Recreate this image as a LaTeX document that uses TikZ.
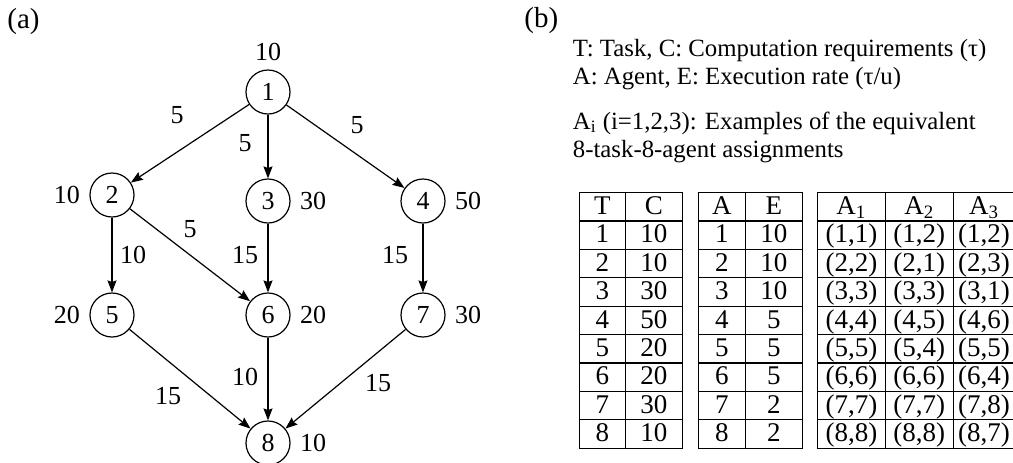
\documentclass[tikz,border=0pt]{standalone}
\usepackage{fontspec}
\setmainfont{Liberation Serif}
\usepackage{tikz}
\usetikzlibrary{arrows.meta, positioning, matrix}
\tikzstyle{task} = [circle, 
draw=black, 
line width=0.6pt, 
minimum size=22pt, 
inner sep=0pt, 
font=\fontsize{13}{15}\selectfont]
\tikzstyle{cost} = [inner sep=0pt, font=\fontsize{13}{15}\selectfont]
\tikzstyle{weight} = [inner sep=0pt, font=\fontsize{13}{15}\selectfont]
\tikzstyle{caption} = [anchor=base west, inner sep=0pt, font=\fontsize{14.5}{16}\selectfont]
\tikzstyle{descr} = [anchor=base west, inner sep=0pt, font=\fontsize{12.4}{14.5}\selectfont]
\tikzstyle{tab} = [matrix of nodes, 
anchor=north west, 
inner sep=0pt, 
outer sep=0pt, 
row sep=-0.6pt, 
column sep=-0.6pt, 
nodes={draw=black, 
line width=0.6pt, 
minimum height=14.2pt, 
inner sep=0pt, 
text height=10.4pt, 
text depth=2.8pt, 
font=\fontsize{13.5}{15}\selectfont}]
\tikzstyle{arrow} = [line width=0.6pt,->,>={Stealth[length=6pt,width=4.5pt,inset=0.8pt]}]

\begin{document}
\begin{tikzpicture}[x=0.5pt, y=-0.5pt]
    \useasboundingbox (0,0) rectangle (1013,462);
    \node (capa) [caption] at (7,28) {(a)};
    \node (capb) [caption] at (524,27) {(b)};

    % task graph
    \node (n1) [task] at (268,92) {1};
    \node (n2) [task] at (112,195) {2};
    \node (n3) [task] at (268,201) {3};
    \node (n4) [task] at (423,201) {4};
    \node (n5) [task] at (112,315) {5};
    \node (n6) [task] at (268,315) {6};
    \node (n7) [task] at (423,315) {7};
    \node (n8) [task] at (268,443) {8};

    % computation requirement of each task
    \node (c1) [cost, above=4pt of n1] {10};
    \node (c2) [cost, left=4.5pt of n2] {10};
    \node (c3) [cost, right=4.5pt of n3] {30};
    \node (c4) [cost, right=4.5pt of n4] {50};
    \node (c5) [cost, left=4.5pt of n5] {20};
    \node (c6) [cost, right=4.5pt of n6] {20};
    \node (c7) [cost, right=4.5pt of n7] {30};
    \node (c8) [cost, right=4.5pt of n8] {10};

    \draw [arrow] (n1) -- (n2);
    \draw [arrow] (n1) -- (n3);
    \draw [arrow] (n1) -- (n4);
    \draw [arrow] (n2) -- (n5);
    \draw [arrow] (n2) -- (n6);
    \draw [arrow] (n3) -- (n6);
    \draw [arrow] (n4) -- (n7);
    \draw [arrow] (n5) -- (n8);
    \draw [arrow] (n6) -- (n8);
    \draw [arrow] (n7) -- (n8);

    % communication weights
    \node (w12) [weight] at (177,115) {5};
    \node (w13) [weight] at (245,143) {5};
    \node (w14) [weight] at (357,125) {5};
    \node (w25) [weight] at (133,255) {10};
    \node (w26) [weight] at (190,229) {5};
    \node (w36) [weight] at (245,255) {15};
    \node (w47) [weight] at (395,255) {15};
    \node (w58) [weight] at (168,396) {15};
    \node (w68) [weight] at (245,377) {10};
    \node (w78) [weight] at (378,383) {15};

    % legend
    \node (key1) [descr] at (572.5,56) {T: Task, C: Computation requirements (τ)};
    \node (key2) [descr] at (572.5,84) {A: Agent, E: Execution rate (τ/u)};
    \node (note1) [descr] at (572.5,129) {A\textsubscript{i} (i=1,2,3): Examples of the equivalent};
    \node (note2) [descr] at (572.5,157) {8-task-8-agent assignments};

    % tasks, agents and assignments
    \matrix (tasktab) [tab, 
      column 1/.style={nodes={minimum width=22.8pt}}, 
      column 2/.style={nodes={minimum width=28.6pt}}] at (579,192) {
      T & C \\
      1 & 10 \\
      2 & 10 \\
      3 & 30 \\
      4 & 50 \\
      5 & 20 \\
      6 & 20 \\
      7 & 30 \\
      8 & 10 \\
    };
    \matrix (agenttab) [tab, 
      column 1/.style={nodes={minimum width=23.3pt}}, 
      column 2/.style={nodes={minimum width=28.6pt}}] at (698,192) {
      A & E \\
      1 & 10 \\
      2 & 10 \\
      3 & 10 \\
      4 & 5 \\
      5 & 5 \\
      6 & 5 \\
      7 & 2 \\
      8 & 2 \\
    };
    \matrix (assigntab) [tab, 
      column 1/.style={nodes={minimum width=33.8pt}}, 
      column 2/.style={nodes={minimum width=34.1pt}}, 
      column 3/.style={nodes={minimum width=30.6pt}}] at (817,192) {
      A\textsubscript{1} & A\textsubscript{2} & A\textsubscript{3} \\
      (1,1) & (1,2) & (1,2) \\
      (2,2) & (2,1) & (2,3) \\
      (3,3) & (3,3) & (3,1) \\
      (4,4) & (4,5) & (4,6) \\
      (5,5) & (5,4) & (5,5) \\
      (6,6) & (6,6) & (6,4) \\
      (7,7) & (7,7) & (7,8) \\
      (8,8) & (8,8) & (8,7) \\
    };
\end{tikzpicture}
\end{document}
